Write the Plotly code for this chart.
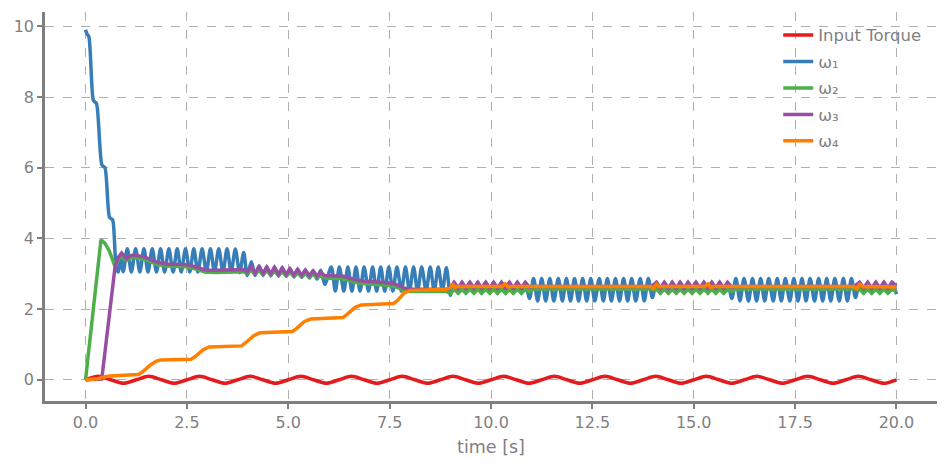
import plotly.graph_objects as go

# ---------------- data ----------------
torque_t = [0, 0.3125, 0.625, 0.9375, 1.25, 1.5625, 1.875, 2.1875, 2.5, 2.8125,
            3.125, 3.4375, 3.75, 4.0625, 4.375, 4.6875, 5.0, 5.3125, 5.625, 5.9375,
            6.25, 6.5625, 6.875, 7.1875, 7.5, 7.8125, 8.125, 8.4375, 8.75, 9.0625,
            9.375, 9.6875, 10.0, 10.3125, 10.625, 10.9375, 11.25, 11.5625, 11.875, 12.1875,
            12.5, 12.8125, 13.125, 13.4375, 13.75, 14.0625, 14.375, 14.6875, 15.0, 15.3125,
            15.625, 15.9375, 16.25, 16.5625, 16.875, 17.1875, 17.5, 17.8125, 18.125, 18.4375,
            18.75, 19.0625, 19.375, 19.6875, 20.0]
torque_v = [0, 0.1, 0, -0.1, 0, 0.1, 0, -0.1, 0, 0.1,
            0, -0.1, 0, 0.1, 0, -0.1, 0, 0.1, 0, -0.1,
            0, 0.1, 0, -0.1, 0, 0.1, 0, -0.1, 0, 0.1,
            0, -0.1, 0, 0.1, 0, -0.1, 0, 0.1, 0, -0.1,
            0, 0.1, 0, -0.1, 0, 0.1, 0, -0.1, 0, 0.1,
            0, -0.1, 0, 0.1, 0, -0.1, 0, 0.1, 0, -0.1,
            0, 0.1, 0, -0.1, 0]

w1_points = [
    (0, 9.91), (0.04, 9.78), (0.08, 9.72), (0.19, 7.92), (0.23, 7.86), (0.27, 7.82),
    (0.40, 6.09), (0.44, 6.04), (0.48, 6.0), (0.59, 4.6), (0.63, 4.56), (0.67, 4.52),
    (0.76, 3.15), (0.81, 3.05), (0.87, 3.45), (0.93, 3.06),
    (1.03, 3.71), (1.13, 3.05), (1.235, 3.71), (1.34, 3.05), (1.44, 3.71), (1.54, 3.05),
    (1.645, 3.71), (1.75, 3.05), (1.85, 3.71), (1.95, 3.05), (2.055, 3.71), (2.16, 3.05),
    (2.26, 3.71), (2.36, 3.05), (2.465, 3.71), (2.57, 3.05), (2.67, 3.71), (2.77, 3.05),
    (2.875, 3.71), (2.98, 3.05), (3.08, 3.71), (3.18, 3.05), (3.285, 3.71), (3.39, 3.05),
    (3.49, 3.71), (3.59, 3.05), (3.695, 3.70), (3.80, 3.03), (3.90, 3.60), (3.99, 2.95),
    (4.09, 3.34), (4.18, 2.95),
    (4.28, 3.22), (4.38, 2.96), (4.47, 3.20), (4.57, 2.95), (4.66, 3.19), (4.76, 2.94),
    (4.85, 3.17), (4.95, 2.93), (5.04, 3.15), (5.14, 2.91), (5.23, 3.13), (5.33, 2.90),
    (5.42, 3.11), (5.52, 2.88), (5.61, 3.09), (5.71, 2.85), (5.80, 3.10), (5.90, 2.70),
    (6.06, 3.19), (6.16, 2.51), (6.26, 3.19), (6.37, 2.51), (6.47, 3.19), (6.57, 2.51),
    (6.67, 3.19), (6.77, 2.51), (6.87, 3.19), (6.98, 2.51), (7.08, 3.19), (7.18, 2.51),
    (7.28, 3.19), (7.38, 2.51), (7.48, 3.19), (7.58, 2.51), (7.68, 3.19), (7.79, 2.51),
    (7.89, 3.19), (7.99, 2.51), (8.09, 3.19), (8.19, 2.51), (8.29, 3.19), (8.40, 2.51),
    (8.50, 3.19), (8.60, 2.51), (8.70, 3.19), (8.80, 2.51), (8.90, 3.17),
    (9.00, 2.39), (9.09, 2.76), (9.19, 2.45), (9.285, 2.76), (9.38, 2.45), (9.48, 2.76),
    (9.58, 2.45), (9.675, 2.76), (9.77, 2.45), (9.87, 2.76), (9.97, 2.45), (10.065, 2.76),
    (10.16, 2.45), (10.26, 2.76), (10.36, 2.45), (10.455, 2.76), (10.55, 2.45), (10.65, 2.76),
    (10.75, 2.45), (10.845, 2.76), (10.95, 2.30),
    (11.05, 2.87), (11.15, 2.23), (11.25, 2.87), (11.35, 2.23), (11.45, 2.87), (11.55, 2.23),
    (11.66, 2.87), (11.76, 2.23), (11.86, 2.87), (11.96, 2.23), (12.06, 2.87), (12.16, 2.23),
    (12.26, 2.87), (12.36, 2.23), (12.46, 2.87), (12.56, 2.23), (12.67, 2.87), (12.77, 2.23),
    (12.87, 2.87), (12.97, 2.23), (13.07, 2.87), (13.17, 2.23), (13.27, 2.87), (13.37, 2.23),
    (13.47, 2.87), (13.57, 2.23), (13.68, 2.87), (13.78, 2.23), (13.88, 2.87), (13.98, 2.33),
    (14.08, 2.76), (14.18, 2.45), (14.275, 2.76), (14.375, 2.45), (14.47, 2.76), (14.57, 2.45),
    (14.665, 2.76), (14.765, 2.45), (14.86, 2.76), (14.96, 2.45), (15.055, 2.76), (15.155, 2.45),
    (15.25, 2.76), (15.35, 2.45), (15.445, 2.76), (15.545, 2.45), (15.64, 2.76), (15.74, 2.45),
    (15.835, 2.76), (15.94, 2.30),
    (16.04, 2.87), (16.14, 2.23), (16.24, 2.87), (16.35, 2.23), (16.45, 2.87), (16.55, 2.23),
    (16.65, 2.87), (16.75, 2.23), (16.85, 2.87), (16.96, 2.23), (17.06, 2.87), (17.16, 2.23),
    (17.26, 2.87), (17.37, 2.23), (17.47, 2.87), (17.57, 2.23), (17.67, 2.87), (17.77, 2.23),
    (17.87, 2.87), (17.98, 2.23), (18.08, 2.87), (18.18, 2.23), (18.28, 2.87), (18.38, 2.23),
    (18.48, 2.87), (18.59, 2.23), (18.69, 2.87), (18.79, 2.23), (18.89, 2.87), (18.99, 2.33),
    (19.09, 2.76), (19.19, 2.45), (19.29, 2.76), (19.39, 2.45), (19.49, 2.76), (19.59, 2.45),
    (19.69, 2.76), (19.79, 2.45), (19.89, 2.76), (20.0, 2.42),
]

w2_points = [
    (0, 0), (0.38, 3.96), (0.48, 3.86), (0.58, 3.66), (0.66, 3.42), (0.72, 3.22),
    (0.80, 3.38), (0.89, 3.50), (0.95, 3.43), (1.01, 3.38), (1.10, 3.44), (1.18, 3.47),
    (1.45, 3.42), (1.75, 3.27), (2.0, 3.22), (2.5, 3.20), (2.7, 3.14), (2.95, 3.05),
    (3.2, 3.04), (3.6, 3.04), (3.9, 3.06),
    (3.99, 3.00), (4.09, 3.10), (4.18, 2.98), (4.28, 3.10), (4.38, 2.97), (4.47, 3.09),
    (4.57, 2.96), (4.66, 3.08), (4.76, 2.95), (4.85, 3.06), (4.95, 2.94), (5.04, 3.04),
    (5.14, 2.93), (5.23, 3.02), (5.33, 2.92), (5.42, 3.00), (5.52, 2.91), (5.61, 2.98),
    (5.71, 2.90), (5.80, 2.94), (5.90, 2.88),
    (6.0, 2.88), (6.35, 2.86), (6.5, 2.81), (6.75, 2.73), (7.0, 2.71), (7.5, 2.67),
    (7.65, 2.63), (7.85, 2.54), (8.0, 2.50), (8.9, 2.50),
    (9.00, 2.44), (9.09, 2.56), (9.19, 2.45), (9.285, 2.56), (9.38, 2.45), (9.48, 2.56),
    (9.58, 2.45), (9.675, 2.56), (9.77, 2.45), (9.87, 2.56), (9.97, 2.45), (10.065, 2.56),
    (10.16, 2.45), (10.26, 2.56), (10.36, 2.45), (10.455, 2.56), (10.55, 2.45), (10.65, 2.56),
    (10.75, 2.45), (10.845, 2.56), (10.95, 2.50),
    (11.05, 2.57), (13.95, 2.57),
    (14.08, 2.56), (14.18, 2.45), (14.275, 2.56), (14.375, 2.45), (14.47, 2.56), (14.57, 2.45),
    (14.665, 2.56), (14.765, 2.45), (14.86, 2.56), (14.96, 2.45), (15.055, 2.56), (15.155, 2.45),
    (15.25, 2.56), (15.35, 2.45), (15.445, 2.56), (15.545, 2.45), (15.64, 2.56), (15.74, 2.45),
    (15.835, 2.56), (15.94, 2.50),
    (16.04, 2.57), (18.95, 2.57),
    (19.09, 2.56), (19.19, 2.45), (19.29, 2.56), (19.39, 2.45), (19.49, 2.56), (19.59, 2.45),
    (19.69, 2.56), (19.79, 2.45), (19.89, 2.56), (20.0, 2.50),
]

w3_points = [
    (0, 0), (0.40, 0.02), (0.73, 3.22), (0.80, 3.45), (0.89, 3.59), (0.95, 3.50),
    (1.01, 3.43), (1.10, 3.50), (1.18, 3.53), (1.45, 3.48), (1.75, 3.33), (2.0, 3.28),
    (2.5, 3.26), (2.7, 3.20), (2.95, 3.11), (3.2, 3.10), (3.6, 3.10), (3.9, 3.12),
    (3.99, 3.05), (4.09, 3.20), (4.18, 3.02), (4.28, 3.20), (4.38, 3.01), (4.47, 3.19),
    (4.57, 3.00), (4.66, 3.18), (4.76, 2.99), (4.85, 3.16), (4.95, 2.98), (5.04, 3.14),
    (5.14, 2.97), (5.23, 3.12), (5.33, 2.96), (5.42, 3.10), (5.52, 2.95), (5.61, 3.08),
    (5.71, 2.94), (5.80, 3.04), (5.90, 2.95),
    (6.0, 2.95), (6.35, 2.93), (6.5, 2.88), (6.75, 2.80), (7.0, 2.78), (7.5, 2.74),
    (7.65, 2.70), (7.85, 2.60), (8.0, 2.56), (8.9, 2.56),
    (9.00, 2.60), (9.09, 2.76), (9.19, 2.60), (9.285, 2.76), (9.38, 2.60), (9.48, 2.76),
    (9.58, 2.60), (9.675, 2.76), (9.77, 2.60), (9.87, 2.76), (9.97, 2.60), (10.065, 2.76),
    (10.16, 2.60), (10.26, 2.76), (10.36, 2.60), (10.455, 2.76), (10.55, 2.60), (10.65, 2.76),
    (10.75, 2.60), (10.845, 2.76), (10.95, 2.62),
    (11.05, 2.64), (13.95, 2.64),
    (14.08, 2.76), (14.18, 2.60), (14.275, 2.76), (14.375, 2.60), (14.47, 2.76), (14.57, 2.60),
    (14.665, 2.76), (14.765, 2.60), (14.86, 2.76), (14.96, 2.60), (15.055, 2.76), (15.155, 2.60),
    (15.25, 2.76), (15.35, 2.60), (15.445, 2.76), (15.545, 2.60), (15.64, 2.76), (15.74, 2.60),
    (15.835, 2.76), (15.94, 2.62),
    (16.04, 2.64), (18.95, 2.64),
    (19.09, 2.76), (19.19, 2.60), (19.29, 2.76), (19.39, 2.60), (19.49, 2.76), (19.59, 2.60),
    (19.69, 2.76), (19.79, 2.60), (19.89, 2.76), (20.0, 2.66),
]

w4_points = [
    (0, 0), (0.3, 0.03), (0.45, 0.08), (0.6, 0.11), (1.3, 0.15), (1.4, 0.22),
    (1.6, 0.42), (1.75, 0.53), (1.85, 0.56), (2.6, 0.58), (2.7, 0.65), (2.9, 0.85),
    (3.05, 0.93), (3.85, 0.96), (3.95, 1.05), (4.15, 1.25), (4.3, 1.33), (5.1, 1.37),
    (5.2, 1.45), (5.4, 1.65), (5.55, 1.72), (6.35, 1.76), (6.45, 1.85), (6.65, 2.05),
    (6.8, 2.12), (7.6, 2.16), (7.7, 2.25), (7.85, 2.45), (8.0, 2.53), (8.9, 2.56),
    (9.0, 2.60), (9.05, 2.72), (9.1, 2.62), (9.2, 2.64), (10.28, 2.64), (10.35, 2.72),
    (10.42, 2.63), (10.5, 2.64), (13.95, 2.64), (14.0, 2.58), (14.08, 2.70), (14.15, 2.63),
    (14.25, 2.64), (15.28, 2.64), (15.35, 2.71), (15.42, 2.62), (15.5, 2.64), (18.95, 2.64),
    (19.02, 2.58), (19.1, 2.70), (19.18, 2.63), (19.3, 2.64), (20.0, 2.63),
]

series_names = ["Input Torque", "ω₁", "ω₂", "ω₃", "ω₄"]
series_colors = ["#e41a1c", "#377eb8", "#4daf4a", "#984ea3", "#ff7f00"]
series_shapes = ["spline", "spline", "linear", "linear", "linear"]
x_ticks = [0, 2.5, 5, 7.5, 10, 12.5, 15, 17.5, 20]
x_tick_labels = ["0.0", "2.5", "5.0", "7.5", "10.0", "12.5", "15.0", "17.5", "20.0"]
y_ticks = [0, 2, 4, 6, 8, 10]
y_tick_labels = ["0", "2", "4", "6", "8", "10"]

# ---------------- figure ----------------
GREY = "#7f7f7f"
LW = 3.5
fig = go.Figure()

all_x = [torque_t] + [[p[0] for p in pts] for pts in (w1_points, w2_points, w3_points, w4_points)]
all_y = [torque_v] + [[p[1] for p in pts] for pts in (w1_points, w2_points, w3_points, w4_points)]

for i in range(5):
    line = dict(color=series_colors[i], width=LW, shape=series_shapes[i])
    if series_shapes[i] == "spline":
        line["smoothing"] = 0.8
    fig.add_trace(go.Scatter(x=all_x[i], y=all_y[i], mode="lines", name=series_names[i],
                             legendgroup=f"g{i}", line=line))

axis_common = dict(
    showline=True, linecolor=GREY, linewidth=2.6, mirror=False,
    ticks="outside", ticklen=5, tickwidth=2, tickcolor=GREY,
    tickfont=dict(family="DejaVu Sans", size=16, color=GREY),
    showgrid=True, gridcolor="#b0b0b0", gridwidth=1, griddash="dash",
    zeroline=False, automargin=False,
)
fig.update_xaxes(range=[-1, 21], tickvals=x_ticks, ticktext=x_tick_labels,
                 title=dict(text="time [s]", font=dict(family="DejaVu Sans", size=17.5, color=GREY),
                            standoff=10),
                 **axis_common)
fig.update_yaxes(range=[-0.6, 10.41], tickvals=y_ticks, ticktext=y_tick_labels, **axis_common)

# the page adds an 8 px body margin, so the figure is shifted back by that amount
fig.update_layout(
    width=939, height=460,
    margin=dict(l=37, r=10, t=4, b=67),
    plot_bgcolor="white", paper_bgcolor="white",
    font=dict(family="DejaVu Sans", color=GREY),
    showlegend=True,
    legend=dict(x=0.822, y=0.985, xanchor="left", yanchor="top",
                bgcolor="rgba(0,0,0,0)", tracegroupgap=2,
                font=dict(family="DejaVu Sans", size=16.5, color=GREY)),
)

fig.write_html("out.html")
